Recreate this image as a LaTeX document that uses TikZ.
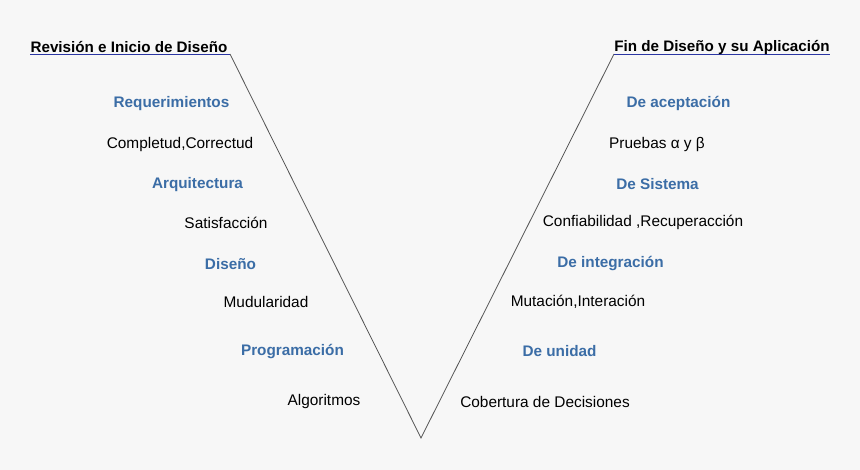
\documentclass[tikz,border=0pt]{standalone}
\usepackage{fontspec}
\setmainfont{Liberation Sans}
\definecolor{bg}{HTML}{F7F7F7}
\definecolor{lbl}{HTML}{3B6DA6}
\definecolor{uline}{HTML}{2B36A3}
\definecolor{vline}{HTML}{555555}
\begin{document}
\begin{tikzpicture}[x=1pt,y=-1pt,
  txt/.style={inner sep=0pt,text height=11pt,text depth=3pt,font=\fontsize{15.4}{18}\selectfont},
  stage/.style={txt,text=lbl,font=\fontsize{15.3}{18}\selectfont\bfseries},
  ttl/.style={txt,font=\fontsize{15.2}{18}\selectfont\bfseries},
  under/.style={draw=uline,line width=0.9pt},
  vee/.style={draw=vline,line width=0.8pt}]
\fill[bg] (0,0) rectangle (860,470);
\useasboundingbox (0,0) rectangle (860,470);
% V shape
\coordinate (ltop) at (230,54);
\coordinate (bot) at (421,438);
\coordinate (rtop) at (614,54);
\coordinate (lend) at (30,54);
\coordinate (rend) at (830,54);
\draw[vee] (ltop) -- (bot) -- (rtop);
\draw[under] (lend) -- (ltop);
\draw[under] (rtop) -- (rend);
% titles
\node[ttl] (t1) at (129,49) {Revisión e Inicio de Diseño};
\node[ttl] (t2) at (722,48) {Fin de Diseño y su Aplicación};
% left side
\node[stage] (s1) at (171.5,104) {Requerimientos};
\node[txt] (c1) at (180,145) {Completud,Correctud};
\node[stage] (s2) at (197.5,185) {Arquitectura};
\node[txt] (c2) at (226,225) {Satisfacción};
\node[stage] (s3) at (230.5,266) {Diseño};
\node[txt] (c3) at (266,304) {Mudularidad};
\node[stage] (s4) at (292.5,352) {Programación};
\node[txt] (c4) at (324,402) {Algoritmos};
% right side
\node[stage] (r1) at (678.5,104) {De aceptación};
\node[txt] (d1) at (657,145) {Pruebas α y β};
\node[stage] (r2) at (657.5,186) {De Sistema};
\node[txt] (d2) at (643,223) {Confiabilidad ,Recuperacción};
\node[stage] (r3) at (610.5,264) {De integración};
\node[txt] (d3) at (578,303) {Mutación,Interación};
\node[stage] (r4) at (559.5,353) {De unidad};
\node[txt] (d4) at (545,403) {Cobertura de Decisiones};
\end{tikzpicture}
\end{document}
